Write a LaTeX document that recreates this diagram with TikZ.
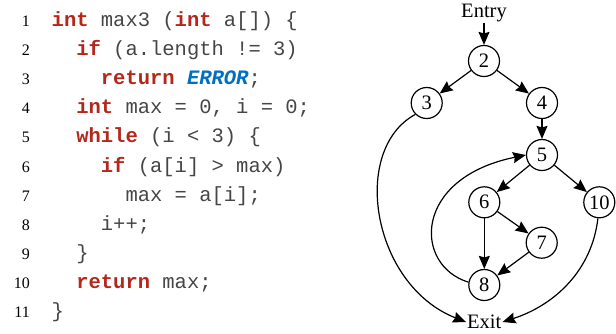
\documentclass[tikz,border=0pt]{standalone}
\usepackage{fontspec}
\setmainfont{Liberation Serif}
\setmonofont{Liberation Mono}
\usetikzlibrary{arrows.meta}
\definecolor{kw}{RGB}{180,40,28}
\definecolor{errc}{RGB}{0,112,192}
\definecolor{codec}{RGB}{70,70,70}
\newcommand{\kwd}[1]{{\bfseries\color{kw}#1}}
\begin{document}
\begin{tikzpicture}[x=1pt,y=-1pt,
  lnum/.style={anchor=base east,inner sep=0pt,font=\fontsize{16}{18}\selectfont},
  code/.style={anchor=base west,inner sep=0pt,text=codec,font=\ttfamily\fontsize{20.5}{22}\selectfont},
  cfg/.style={circle,draw,line width=1.2pt,minimum size=31pt,inner sep=0pt,font=\fontsize{20.5}{22}\selectfont},
  lbl/.style={inner sep=1pt,font=\fontsize{20.5}{22}\selectfont},
  edge/.style={line width=1.2pt,-{Stealth[length=13pt,width=11pt,inset=1.5pt]}}]
\useasboundingbox (0,0) rectangle (616,333);
% code
\foreach \i in {1,...,11}{
  \node[lnum] (n\i) at (30,{26.7+(\i-1)*29.07}) {\i};
}
\def\cw{12.3}
\node[code] (c1) at ({51.5+0*\cw},26.7) {\kwd{int} max3 (\kwd{int} a[]) \{};
\node[code] (c2) at ({51.5+2*\cw},{26.7+1*29.07}) {\kwd{if} (a.length != 3)};
\node[code] (c3) at ({51.5+4*\cw},{26.7+2*29.07}) {\kwd{return} {\bfseries\itshape\color{errc}ERROR};};
\node[code] (c4) at ({51.5+2*\cw},{26.7+3*29.07}) {\kwd{int} max = 0, i = 0;};
\node[code] (c5) at ({51.5+2*\cw},{26.7+4*29.07}) {\kwd{while} (i < 3) \{};
\node[code] (c6) at ({51.5+4*\cw},{26.7+5*29.07}) {\kwd{if} (a[i] > max)};
\node[code] (c7) at ({51.5+6*\cw},{26.7+6*29.07}) {max = a[i];};
\node[code] (c8) at ({51.5+4*\cw},{26.7+7*29.07}) {i++;};
\node[code] (c9) at ({51.5+2*\cw},{26.7+8*29.07}) {\}};
\node[code] (c10) at ({51.5+2*\cw},{26.7+9*29.07}) {\kwd{return} max;};
\node[code] (c11) at ({51.5+0*\cw},{26.7+10*29.07}) {\}};
% graph
\node[lbl] (entry) at (484,12.5) {Entry};
\node[cfg] (v2) at (484,61) {2};
\node[cfg] (v3) at (426.7,103) {3};
\node[cfg] (v4) at (542,103) {4};
\node[cfg] (v5) at (542,155) {5};
\node[cfg] (v6) at (484.3,202.3) {6};
\node[cfg] (v10) at (599.3,202.3) {10};
\node[cfg] (v7) at (541.7,242.7) {7};
\node[cfg] (v8) at (484.3,285) {8};
\node[lbl] (exit) at (484.3,322) {Exit};
\draw[edge] (entry) -- (v2);
\draw[edge] (v2) -- (v3);
\draw[edge] (v2) -- (v4);
\draw[edge] (v4) -- (v5);
\draw[edge] (v5) -- (v6);
\draw[edge] (v5) -- (v10);
\draw[edge] (v6) -- (v7);
\draw[edge] (v6) -- (v8);
\draw[edge] (v7) -- (v8);
\draw[edge] (v8.170) .. controls (413,265) and (413,178) .. (v5.west);
\draw[edge] (v3.225) .. controls (350,150) and (372,285) .. (exit.west);
\draw[edge] (v10.265) .. controls (592,270) and (555,305) .. (exit.east);
\end{tikzpicture}
\end{document}
